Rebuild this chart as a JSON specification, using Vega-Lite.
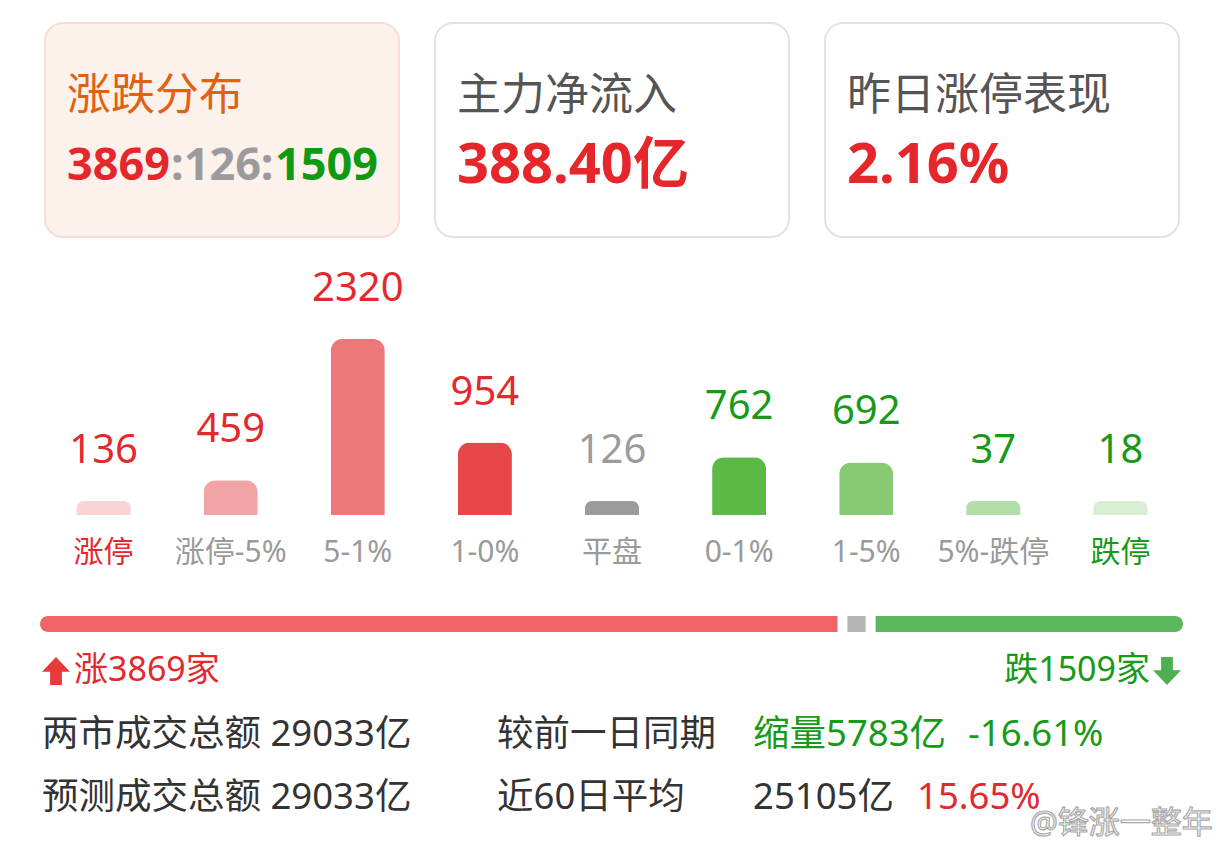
{
  "$schema": "https://vega.github.io/schema/vega-lite/v6.json",
  "background": "#ffffff",
  "padding": {"top": 22, "left": 0, "right": 0, "bottom": 0},
  "spacing": 0,
  "bounds": "flush",
  "resolve": {"scale": {"color": "independent", "fill": "independent", "stroke": "independent", "shape": "independent"}},
  "config": {
    "view": {"stroke": null},
    "font": "Noto Sans, Noto Sans CJK SC",
    "text": {"font": "Noto Sans, Noto Sans CJK SC"}
  },
  "datasets": {
    "cards": [
      {"card": "涨跌分布", "title": "涨跌分布", "up": "3869", "flat": ":126:", "down": "1509"},
      {"card": "主力净流入", "title": "主力净流入", "value": "388.40亿"},
      {"card": "昨日涨停表现", "title": "昨日涨停表现", "value": "2.16%"}
    ],
    "dist": [
      {"cat": "涨停", "count": 136, "dir": "up"},
      {"cat": "涨停-5%", "count": 459, "dir": "up"},
      {"cat": "5-1%", "count": 2320, "dir": "up"},
      {"cat": "1-0%", "count": 954, "dir": "up"},
      {"cat": "平盘", "count": 126, "dir": "flat"},
      {"cat": "0-1%", "count": 762, "dir": "down"},
      {"cat": "1-5%", "count": 692, "dir": "down"},
      {"cat": "5%-跌停", "count": 37, "dir": "down"},
      {"cat": "跌停", "count": 18, "dir": "down"}
    ],
    "breadth": [
      {"side": "涨", "n": 3869, "rank": 1, "label": "涨3869家"},
      {"side": "平", "n": 126, "rank": 2, "label": "平126家"},
      {"side": "跌", "n": 1509, "rank": 3, "label": "跌1509家"}
    ],
    "turnover": [
      {"row": "成交", "label": "两市成交总额 29033亿", "compare": "较前一日同期", "amount": "缩量5783亿", "change": "-16.61%", "trend": "down"},
      {"row": "预测", "label": "预测成交总额 29033亿", "compare": "近60日平均", "amount": "25105亿", "change": "15.65%", "trend": "up"}
    ]
  },
  "vconcat": [
    {
      "width": 1224,
      "height": 214,
      "data": {"name": "cards"},
      "layer": [
        {
          "mark": {"type": "rect", "cornerRadius": 18, "strokeWidth": 2},
          "encoding": {
            "x": {"field": "card", "type": "nominal", "sort": null, "axis": null, "scale": {"domain": ["涨跌分布", "主力净流入", "昨日涨停表现"], "paddingInner": 0.0923, "paddingOuter": 0.1154}},
            "fill": {"field": "card", "type": "nominal", "legend": null, "scale": {"domain": ["涨跌分布", "主力净流入", "昨日涨停表现"], "range": ["#fdf1ec", "#ffffff", "#ffffff"]}},
            "stroke": {"field": "card", "type": "nominal", "legend": null, "scale": {"domain": ["涨跌分布", "主力净流入", "昨日涨停表现"], "range": ["#f6ddd3", "#e3e3e3", "#e3e3e3"]}}
          }
        },
        {
          "mark": {"type": "text", "align": "left", "baseline": "middle", "fontSize": 44, "dx": 22, "dy": 3, "font": "Noto Sans CJK SC"},
          "encoding": {
            "x": {"field": "card", "type": "nominal", "bandPosition": 0},
            "y": {"datum": "title", "type": "nominal", "axis": null, "scale": {"type": "point", "domain": ["title", "value"], "padding": 1.146}},
            "text": {"field": "title"},
            "color": {"field": "card", "type": "nominal", "legend": null, "scale": {"domain": ["涨跌分布", "主力净流入", "昨日涨停表现"], "range": ["#df6213", "#555555", "#555555"]}}
          }
        },
        {
          "transform": [{"filter": "isValid(datum.value)"}],
          "mark": {"type": "text", "align": "left", "baseline": "middle", "fontSize": 56, "fontWeight": "bold", "dx": 22, "color": "#e5262b"},
          "encoding": {
            "x": {"field": "card", "type": "nominal", "bandPosition": 0},
            "y": {"datum": "value", "type": "nominal"},
            "text": {"field": "value"}
          }
        },
        {
          "transform": [{"filter": "isValid(datum.up)"}],
          "mark": {"type": "text", "align": "left", "baseline": "middle", "fontSize": 45, "fontWeight": "bold", "dx": 22, "color": "#e5262b"},
          "encoding": {
            "x": {"field": "card", "type": "nominal", "bandPosition": 0},
            "y": {"datum": "value", "type": "nominal"},
            "text": {"field": "up"}
          }
        },
        {
          "transform": [{"filter": "isValid(datum.flat)"}],
          "mark": {"type": "text", "align": "left", "baseline": "middle", "fontSize": 45, "fontWeight": "bold", "dx": 126, "color": "#9b9b9b"},
          "encoding": {
            "x": {"field": "card", "type": "nominal", "bandPosition": 0},
            "y": {"datum": "value", "type": "nominal"},
            "text": {"field": "flat"}
          }
        },
        {
          "transform": [{"filter": "isValid(datum.down)"}],
          "mark": {"type": "text", "align": "left", "baseline": "middle", "fontSize": 45, "fontWeight": "bold", "dx": 230, "color": "#0f9a12"},
          "encoding": {
            "x": {"field": "card", "type": "nominal", "bandPosition": 0},
            "y": {"datum": "value", "type": "nominal"},
            "text": {"field": "down"}
          }
        }
      ]
    },
    {
      "width": 1224,
      "height": 278,
      "data": {"name": "dist"},
      "encoding": {
        "x": {"field": "cat", "type": "nominal", "sort": null, "axis": null, "scale": {"type": "band", "domain": ["涨停", "涨停-5%", "5-1%", "1-0%", "平盘", "0-1%", "1-5%", "5%-跌停", "跌停"], "paddingInner": 0.575, "paddingOuter": 0.6025}}
      },
      "layer": [
        {
          "transform": [{"filter": "datum.count >= 185"}],
          "mark": {"type": "bar", "cornerRadiusTopLeft": 12, "cornerRadiusTopRight": 12},
          "encoding": {
            "y": {"field": "count", "type": "quantitative", "axis": null, "scale": {"domain": [0, 3664], "nice": false}},
            "fill": {"field": "cat", "type": "nominal", "legend": null, "scale": {"domain": ["涨停", "涨停-5%", "5-1%", "1-0%", "平盘", "0-1%", "1-5%", "5%-跌停", "跌停"], "range": ["#f9d4d5", "#f2a4a5", "#ee7779", "#e8474a", "#9b9b9b", "#5bb946", "#86ca74", "#b3dea8", "#d9efd3"]}}
          }
        },
        {
          "transform": [{"filter": "datum.count < 185"}],
          "mark": {"type": "bar", "cornerRadiusTopLeft": 12, "cornerRadiusTopRight": 12},
          "encoding": {
            "y": {"datum": 185, "type": "quantitative"},
            "y2": {"datum": 0},
            "fill": {"field": "cat", "type": "nominal", "legend": null}
          }
        },
        {
          "transform": [{"filter": "datum.count >= 185"}],
          "mark": {"type": "text", "baseline": "alphabetic", "fontSize": 40, "dy": -38, "font": "Noto Sans"},
          "encoding": {
            "y": {"field": "count", "type": "quantitative"},
            "text": {"field": "count", "type": "quantitative"},
            "color": {"field": "dir", "type": "nominal", "legend": null, "scale": {"domain": ["up", "flat", "down"], "range": ["#e3292e", "#9b9b9b", "#179a17"]}}
          }
        },
        {
          "transform": [{"filter": "datum.count < 185"}],
          "mark": {"type": "text", "baseline": "alphabetic", "fontSize": 40, "dy": -38, "font": "Noto Sans"},
          "encoding": {
            "y": {"datum": 185, "type": "quantitative"},
            "text": {"field": "count", "type": "quantitative"},
            "color": {"field": "dir", "type": "nominal", "legend": null}
          }
        }
      ]
    },
    {
      "width": 1224,
      "height": 76,
      "data": {"name": "dist"},
      "mark": {"type": "text", "baseline": "middle", "fontSize": 30},
      "encoding": {
        "x": {"field": "cat", "type": "nominal", "sort": null, "axis": null, "scale": {"type": "band", "domain": ["涨停", "涨停-5%", "5-1%", "1-0%", "平盘", "0-1%", "1-5%", "5%-跌停", "跌停"], "paddingInner": 0.575, "paddingOuter": 0.6025}},
        "text": {"field": "cat"},
        "color": {"condition": [{"test": "datum.cat === '涨停'", "value": "#e3292e"}, {"test": "datum.cat === '跌停'", "value": "#179a17"}], "value": "#9a9a9a"}
      }
    },
    {
      "width": 1224,
      "height": 66,
      "data": {"name": "breadth"},
      "transform": [{"stack": "n", "groupby": [], "sort": [{"field": "rank", "order": "ascending"}], "as": ["start", "end"]}],
      "encoding": {
        "x": {"field": "start", "type": "quantitative", "axis": null, "scale": {"domain": [-192.6, 5701.4], "zero": false, "nice": false}},
        "x2": {"field": "end"},
        "y": {"datum": "市场宽度", "type": "nominal", "axis": null}
      },
      "layer": [
        {
          "transform": [{"filter": "datum.side === '涨'"}],
          "mark": {"type": "bar", "height": 16, "color": "#f26566", "cornerRadiusTopLeft": 8, "cornerRadiusBottomLeft": 8, "x2Offset": -6}
        },
        {
          "transform": [{"filter": "datum.side === '平'"}],
          "mark": {"type": "bar", "height": 16, "color": "#b5b5b5", "xOffset": 4, "x2Offset": -4}
        },
        {
          "transform": [{"filter": "datum.side === '跌'"}],
          "mark": {"type": "bar", "height": 16, "color": "#5cb85c", "cornerRadiusTopRight": 8, "cornerRadiusBottomRight": 8, "xOffset": 6}
        }
      ]
    },
    {
      "width": 1224,
      "height": 194,
      "layer": [
        {
          "data": {"name": "breadth"},
          "transform": [{"filter": "datum.side === '涨'"}],
          "mark": {"type": "point", "filled": true, "opacity": 1, "size": 784, "color": "#e8393b", "shape": "M0,-1L1,0.05L0.42,0.05L0.42,1L-0.42,1L-0.42,0.05L-1,0.05Z"},
          "encoding": {
            "x": {"datum": 56, "type": "quantitative", "axis": null, "scale": {"domain": [0, 1224], "nice": false, "zero": false}},
            "y": {"datum": "summary", "type": "nominal", "axis": null, "scale": {"type": "point", "domain": ["summary", "成交", "预测"], "padding": 0.5276, "align": 0.209}}
          }
        },
        {
          "data": {"name": "breadth"},
          "transform": [{"filter": "datum.side === '跌'"}],
          "mark": {"type": "point", "filled": true, "opacity": 1, "size": 784, "color": "#4caf50", "shape": "M0,1L1,-0.05L0.42,-0.05L0.42,-1L-0.42,-1L-0.42,-0.05L-1,-0.05Z"},
          "encoding": {
            "x": {"datum": 1167, "type": "quantitative"},
            "y": {"datum": "summary", "type": "nominal"}
          }
        },
        {
          "data": {"name": "breadth"},
          "transform": [{"filter": "datum.side === '涨'"}],
          "mark": {"type": "text", "align": "left", "baseline": "middle", "fontSize": 34, "color": "#e3292e"},
          "encoding": {
            "x": {"datum": 74, "type": "quantitative"},
            "y": {"datum": "summary", "type": "nominal"},
            "text": {"field": "label"}
          }
        },
        {
          "data": {"name": "breadth"},
          "transform": [{"filter": "datum.side === '跌'"}],
          "mark": {"type": "text", "align": "right", "baseline": "middle", "fontSize": 34, "color": "#179a17"},
          "encoding": {
            "x": {"datum": 1150, "type": "quantitative"},
            "y": {"datum": "summary", "type": "nominal"},
            "text": {"field": "label"}
          }
        },
        {
          "data": {"name": "turnover"},
          "mark": {"type": "text", "align": "left", "baseline": "middle", "fontSize": 36.5, "color": "#333333"},
          "encoding": {
            "x": {"datum": 42, "type": "quantitative"},
            "y": {"field": "row", "type": "nominal"},
            "text": {"field": "label"}
          }
        },
        {
          "data": {"name": "turnover"},
          "mark": {"type": "text", "align": "left", "baseline": "middle", "fontSize": 36.5, "color": "#333333"},
          "encoding": {
            "x": {"datum": 497, "type": "quantitative"},
            "y": {"field": "row", "type": "nominal"},
            "text": {"field": "compare"}
          }
        },
        {
          "data": {"name": "turnover"},
          "mark": {"type": "text", "align": "left", "baseline": "middle", "fontSize": 36.5},
          "encoding": {
            "x": {"datum": 753, "type": "quantitative"},
            "y": {"field": "row", "type": "nominal"},
            "text": {"field": "amount"},
            "color": {"condition": {"test": "datum.row === '成交'", "value": "#179a17"}, "value": "#333333"}
          }
        },
        {
          "data": {"name": "turnover"},
          "transform": [{"filter": "datum.row === '成交'"}],
          "mark": {"type": "text", "align": "left", "baseline": "middle", "fontSize": 36.5, "color": "#179a17"},
          "encoding": {
            "x": {"datum": 968, "type": "quantitative"},
            "y": {"field": "row", "type": "nominal"},
            "text": {"field": "change"}
          }
        },
        {
          "data": {"name": "turnover"},
          "transform": [{"filter": "datum.row === '预测'"}],
          "mark": {"type": "text", "align": "left", "baseline": "middle", "fontSize": 36.5, "color": "#e3292e"},
          "encoding": {
            "x": {"datum": 917, "type": "quantitative"},
            "y": {"field": "row", "type": "nominal"},
            "text": {"field": "change"}
          }
        },
        {
          "data": {"values": [{"credit": "@锋涨一整年"}]},
          "mark": {"type": "text", "align": "left", "baseline": "middle", "fontSize": 31, "dy": 26, "fill": "#ffffff", "stroke": "#a8a8a8", "strokeWidth": 1.2},
          "encoding": {
            "x": {"datum": 1030, "type": "quantitative"},
            "y": {"datum": "预测", "type": "nominal"},
            "text": {"field": "credit"}
          }
        }
      ]
    }
  ]
}
